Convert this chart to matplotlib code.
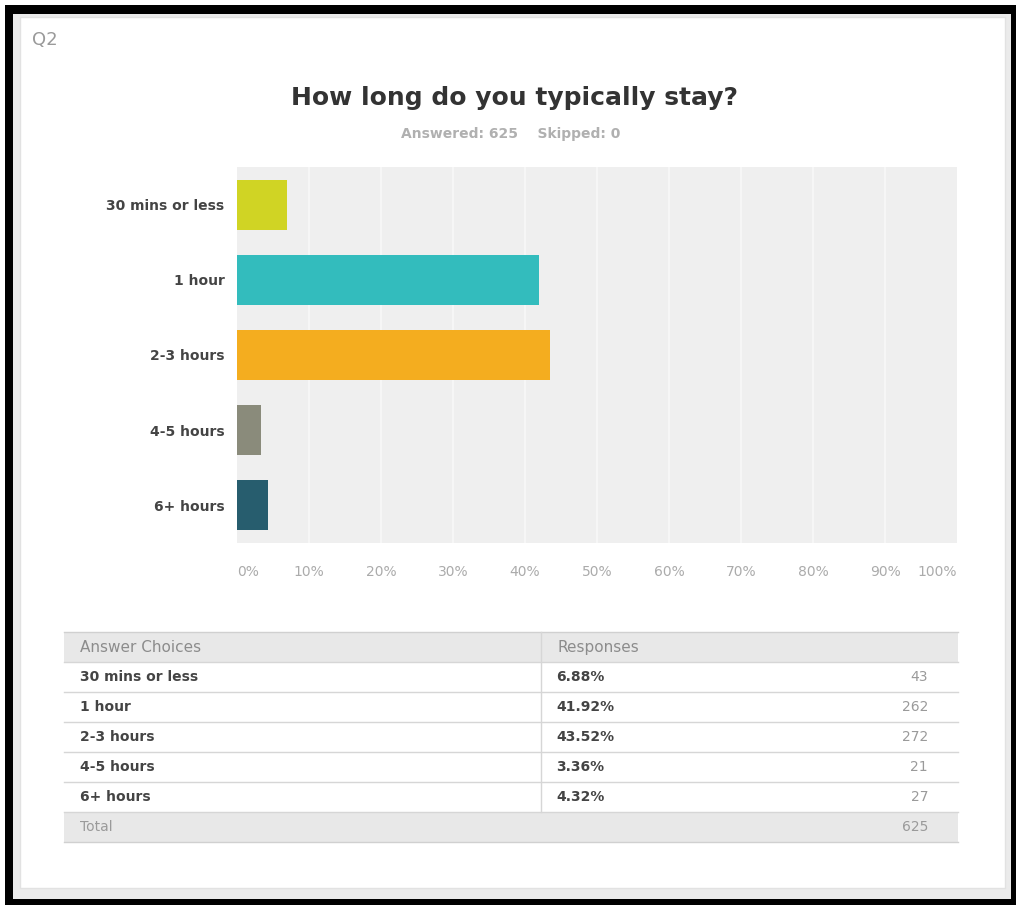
import matplotlib.pyplot as plt
from matplotlib.patches import Rectangle

# survey answers
choices = ['30 mins or less', '1 hour', '2-3 hours', '4-5 hours', '6+ hours']
percents = [6.88, 41.92, 43.52, 3.36, 4.32]
counts = [43, 262, 272, 21, 27]
bar_colors = ['#d0d424', '#33bcbd', '#f4ad1f', '#8a8b7b', '#275d6e']
x_ticks = [0, 10, 20, 30, 40, 50, 60, 70, 80, 90, 100]

question = 'Q2'
title = 'How long do you typically stay?'
answered = sum(counts)
skipped = 0

W, H = 1021, 905
fig = plt.figure(figsize=(W / 100, H / 100), dpi=100)
fig.patch.set_facecolor('white')

# background layer in pixel coordinates
bg = fig.add_axes([0, 0, 1, 1])
bg.set_xlim(0, W)
bg.set_ylim(H, 0)
bg.axis('off')


def box(x0, y0, x1, y1, **kw):
    bg.add_patch(Rectangle((x0, y0), x1 - x0, y1 - y0, **kw))


# black frame, grey margin and white card
box(5, 5, 1016, 905, facecolor='black', lw=0)
box(13, 14, 1011, 899, facecolor='#ebebeb', lw=0)
box(20, 17, 1005, 888, facecolor='white', edgecolor='#e2e2e2', lw=1)

bg.text(32, 40, question, fontsize=13, color='#9a9a9a', va='center', ha='left')
bg.text(514, 98, title, fontsize=18, fontweight='bold', color='#333333',
        ha='center', va='center')
bg.text(511, 134, f'Answered: {answered}    Skipped: {skipped}', fontsize=10,
        fontweight='bold', color='#b0b0b0', ha='center', va='center')

# results table
tx0, tx1, tcol = 64, 958, 541
top = 632
row_h = 30
box(tx0, top, tx1, top + row_h + 1, facecolor='#e8e8e8', lw=0)
n = len(choices)
tot_y = top + row_h * (n + 1)
box(tx0, tot_y, tx1, tot_y + row_h, facecolor='#e8e8e8', lw=0)
bg.plot([tx0, tx1], [top, top], color='#d0d0d0', lw=1)
for i in range(n + 1):
    y = top + row_h * (i + 1)
    bg.plot([tx0, tx1], [y, y], color='#d6d6d6', lw=1)
bg.plot([tx0, tx1], [tot_y + row_h, tot_y + row_h], color='#d0d0d0', lw=1)
bg.plot([tcol, tcol], [top, tot_y], color='#d6d6d6', lw=1)

bg.text(80, top + row_h / 2, 'Answer Choices', fontsize=11, color='#8c8c8c',
        va='center', ha='left')
bg.text(557, top + row_h / 2, 'Responses', fontsize=11, color='#8c8c8c',
        va='center', ha='left')
for i, (c, p, k) in enumerate(zip(choices, percents, counts)):
    yc = top + row_h * (i + 1) + row_h / 2
    bg.text(80, yc, c, fontsize=10, fontweight='bold', color='#444444',
            va='center', ha='left')
    bg.text(556, yc, f'{p:.2f}%', fontsize=10, fontweight='bold', color='#444444',
            va='center', ha='left')
    bg.text(928, yc, str(k), fontsize=10, color='#9a9a9a', va='center', ha='right')
bg.text(80, tot_y + row_h / 2, 'Total', fontsize=10, color='#9a9a9a',
        va='center', ha='left')
bg.text(928, tot_y + row_h / 2, str(sum(counts)), fontsize=10, color='#9a9a9a',
        va='center', ha='right')

# horizontal bar chart
px0, px1, py0, py1 = 237, 957, 167, 543
ax = fig.add_axes([px0 / W, 1 - py1 / H, (px1 - px0) / W, (py1 - py0) / H])
ax.set_facecolor('#efefef')
ax.barh(range(n), percents, height=0.665, color=bar_colors, zorder=3)
ax.set_xlim(0, 100)
ax.set_ylim(n - 0.5, -0.5)
for t in x_ticks[1:-1]:
    ax.axvline(t, color='#f8f8f8', lw=1.2, zorder=1)
for s in ax.spines.values():
    s.set_visible(False)

ax.set_yticks(range(n))
ax.set_yticklabels(choices, fontsize=10, fontweight='bold', color='#444444')
ax.tick_params(axis='y', length=0, pad=9)
ax.set_xticks(x_ticks)
ax.set_xticklabels([f'{t}%' for t in x_ticks], fontsize=10, color='#ababab')
ax.tick_params(axis='x', length=0, pad=16)
labels = ax.get_xticklabels()
labels[0].set_ha('left')
labels[-1].set_ha('right')

fig.savefig('out.png', dpi=100, facecolor='white')
